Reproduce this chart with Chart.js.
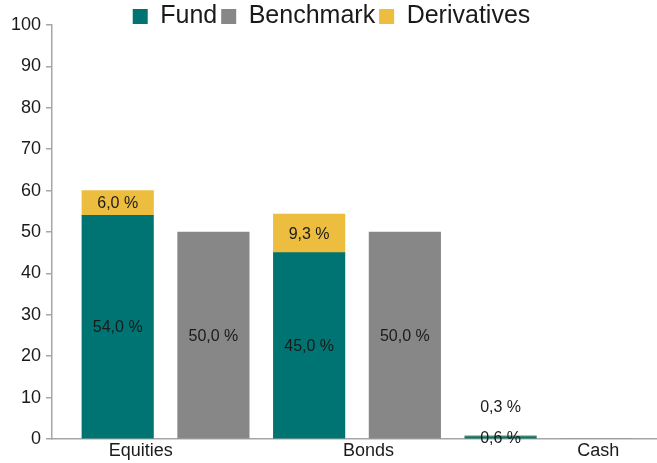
<!DOCTYPE html>
<html>
<head>
<meta charset="utf-8">
<script src="https://cdn.jsdelivr.net/npm/chart.js@4"></script>
<style>
  html, body { margin: 0; padding: 0; background: #fff; }
  #wrap { width: 657px; height: 463px; }
</style>
</head>
<body>
<div id="wrap"><canvas id="myChart" width="657" height="463"></canvas></div>
<script>
const categories = ["Equities", "Bonds", "Cash"];
const fund = [54.0, 45.0, 0.6];
const derivatives = [6.0, 9.3, 0.3];
const benchmark = [50.0, 50.0, 0.0];
const yTicks = [0, 10, 20, 30, 40, 50, 60, 70, 80, 90, 100];
// where the category names sit on the x axis (a bit off the bar groups, like the original)
const labelPos = [-0.13, 1.06, 2.26];

const FONT = "'Liberation Sans', Arial, sans-serif";
// fund bars sit left of the category, benchmark bars right of it
const toPoints = (arr, shift) => arr.map((v, i) => ({ x: i + shift, y: v }));
const fmt = v => v.toFixed(1).replace(".", ",") + " %";

const barLabels = {
  id: "barLabels",
  afterDatasetsDraw(chart) {
    const ctx = chart.ctx;
    ctx.save();
    ctx.font = "16px " + FONT;
    ctx.fillStyle = "#1a1a1a";
    ctx.textAlign = "center";
    ctx.textBaseline = "middle";
    chart.data.datasets.forEach((ds, di) => {
      const meta = chart.getDatasetMeta(di);
      meta.data.forEach((bar, i) => {
        const v = ds.data[i].y;
        if (!v) return;
        const h = Math.abs(bar.base - bar.y);
        let y = (bar.y + bar.base) / 2;
        if (h < 8 && ds.label === "Derivatives") y = bar.y - 29;
        ctx.fillText(fmt(v), bar.x, y + 1);
      });
    });
    ctx.restore();
  }
};

// keep the legend band short so the plot starts right under it
const legendHeight = {
  id: "legendHeight",
  beforeUpdate(chart) {
    const lg = chart.legend;
    if (lg && !lg._fixed) {
      const fit = lg.fit.bind(lg);
      lg.fit = function () { fit(); this.height = 25; };
      lg._fixed = true;
    }
  }
};

const data = {
  datasets: [
    {
      label: "Fund",
      backgroundColor: "#007472",
      data: toPoints(fund, -0.25),
      stack: "all"
    },
    {
      label: "Benchmark",
      backgroundColor: "#878787",
      data: toPoints(benchmark, 0.25),
      stack: "all"
    },
    {
      label: "Derivatives",
      backgroundColor: "#ecbd3e",
      data: toPoints(derivatives, -0.25),
      stack: "all"
    }
  ]
};

const config = {
  type: "bar",
  data: data,
  plugins: [barLabels, legendHeight],
  options: {
    responsive: false,
    animation: false,
    barThickness: 71.5,
    layout: { padding: { left: 6, right: 0, top: 0, bottom: 0 } },
    plugins: {
      legend: {
        position: "top",
        labels: {
          boxWidth: 15,
          boxHeight: 15,
          padding: 4,
          color: "#1a1a1a",
          font: { family: FONT, size: 25 }
        }
      },
      tooltip: { enabled: false }
    },
    scales: {
      x: {
        type: "linear",
        offset: false,
        min: -0.593,
        max: 2.567,
        grid: { display: false, drawTicks: false },
        border: { display: true, color: "#a6a6a6", width: 1.5 },
        afterBuildTicks: s => { s.ticks = labelPos.map(v => ({ value: v })); },
        ticks: {
          autoSkip: false,
          maxRotation: 0,
          padding: 3,
          color: "#1a1a1a",
          font: { family: FONT, size: 18, lineHeight: 1.0 },
          callback: (v, i) => categories[i]
        }
      },
      y: {
        stacked: true,
        min: 0,
        max: 100,
        afterBuildTicks: s => { s.ticks = yTicks.map(v => ({ value: v })); },
        grid: { display: true, drawOnChartArea: false, drawTicks: true, tickLength: 6, color: "#a6a6a6", lineWidth: 1.5 },
        border: { display: true, color: "#a6a6a6", width: 1.5 },
        ticks: {
          padding: 5,
          color: "#1a1a1a",
          font: { family: FONT, size: 18 }
        }
      }
    }
  }
};

const myChart = new Chart(document.getElementById("myChart"), config);
</script>
</body>
</html>
